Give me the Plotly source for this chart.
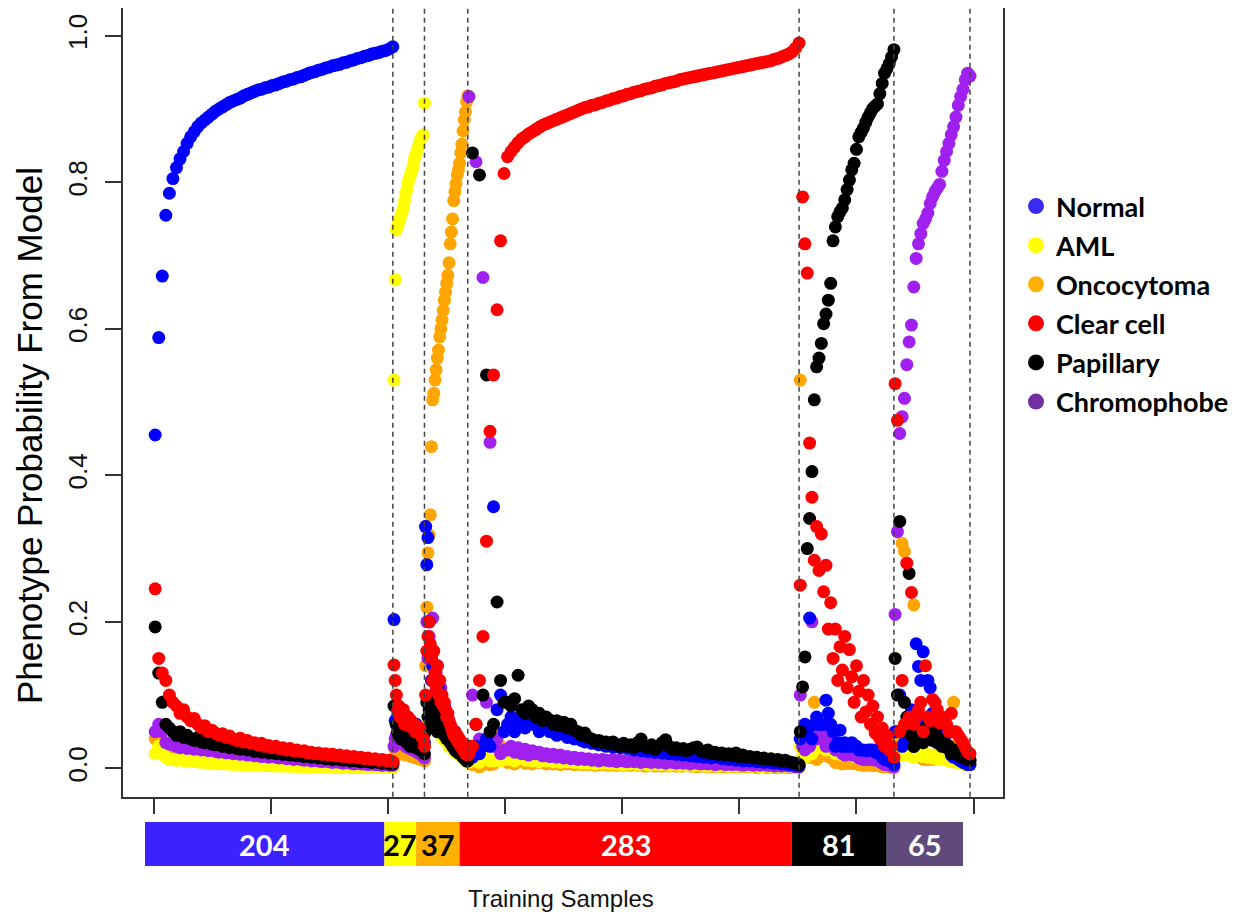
import numpy as np
import plotly.graph_objects as go

# ---------------- data ----------------
classes = ["Normal", "AML", "Oncocytoma", "Clear cell", "Papillary", "Chromophobe"]
group_counts = [204, 27, 37, 283, 81, 65]
count_labels = ["204", "27", "37", "283", "81", "65"]
y_ticks = [0.0, 0.2, 0.4, 0.6, 0.8, 1.0]
x_ticks = [0, 100, 200, 300, 400, 500, 600, 700]

# --- Normal samples (204, read every ~3rd sample) ---
normal_grp_normal = [0.455, 0.588, 0.672, 0.755, 0.785, 0.805, 0.82, 0.832, 0.842, 0.853, 0.862, 0.869, 0.876, 0.881, 0.885, 0.889, 0.893, 0.897, 0.900, 0.903, 0.906, 0.909, 0.911, 0.913, 0.915, 0.918, 0.920, 0.922, 0.924, 0.926, 0.927, 0.929, 0.930, 0.932, 0.933, 0.935, 0.937, 0.938, 0.940, 0.941, 0.943, 0.944, 0.946, 0.948, 0.950, 0.951, 0.953, 0.954, 0.956, 0.957, 0.959, 0.960, 0.961, 0.963, 0.964, 0.966, 0.967, 0.969, 0.970, 0.972, 0.973, 0.975, 0.976, 0.977, 0.979, 0.980, 0.982, 0.985]
normal_grp_aml = [0.02, 0.03, 0.025, 0.015, 0.012, 0.012, 0.011, 0.013, 0.01, 0.011, 0.009, 0.01, 0.009, 0.008, 0.009, 0.007, 0.008, 0.007, 0.006, 0.007, 0.006, 0.006, 0.005, 0.006, 0.005, 0.005, 0.004, 0.005, 0.004, 0.005, 0.004, 0.004, 0.004, 0.003, 0.004, 0.003, 0.003, 0.003, 0.003, 0.003, 0.002, 0.003, 0.002, 0.002, 0.002, 0.002, 0.002, 0.002, 0.002, 0.001, 0.002, 0.001, 0.001, 0.001, 0.001, 0.001, 0.001, 0.001, 0.001, 0.001, 0.001, 0.001, 0.001, 0.001, 0.001, 0.001, 0.001, 0.001]
normal_grp_onco = [0.04, 0.045, 0.035, 0.02, 0.018, 0.015, 0.014, 0.016, 0.012, 0.013, 0.011, 0.012, 0.01, 0.011, 0.009, 0.01, 0.009, 0.008, 0.009, 0.007, 0.008, 0.007, 0.006, 0.007, 0.006, 0.007, 0.005, 0.006, 0.005, 0.006, 0.005, 0.005, 0.004, 0.005, 0.004, 0.005, 0.004, 0.004, 0.003, 0.004, 0.003, 0.004, 0.003, 0.003, 0.003, 0.003, 0.002, 0.003, 0.002, 0.003, 0.002, 0.002, 0.002, 0.002, 0.002, 0.002, 0.001, 0.002, 0.001, 0.002, 0.001, 0.001, 0.001, 0.001, 0.001, 0.001, 0.001, 0.001]
normal_grp_clear = [0.245, 0.15, 0.13, 0.12, 0.10, 0.09, 0.085, 0.075, 0.08, 0.07, 0.065, 0.068, 0.06, 0.055, 0.058, 0.05, 0.052, 0.048, 0.045, 0.047, 0.042, 0.044, 0.04, 0.038, 0.041, 0.036, 0.038, 0.034, 0.035, 0.032, 0.034, 0.03, 0.031, 0.028, 0.03, 0.027, 0.028, 0.025, 0.027, 0.024, 0.025, 0.023, 0.024, 0.021, 0.022, 0.02, 0.021, 0.019, 0.02, 0.018, 0.019, 0.017, 0.018, 0.016, 0.017, 0.015, 0.016, 0.014, 0.015, 0.013, 0.014, 0.012, 0.013, 0.011, 0.012, 0.01, 0.011, 0.009]
normal_grp_pap = [0.193, 0.13, 0.09, 0.06, 0.055, 0.05, 0.045, 0.05, 0.042, 0.045, 0.04, 0.038, 0.042, 0.036, 0.035, 0.038, 0.033, 0.032, 0.035, 0.03, 0.032, 0.028, 0.03, 0.027, 0.026, 0.029, 0.025, 0.026, 0.023, 0.025, 0.022, 0.024, 0.021, 0.022, 0.02, 0.021, 0.019, 0.02, 0.018, 0.019, 0.017, 0.018, 0.016, 0.017, 0.015, 0.016, 0.014, 0.015, 0.013, 0.014, 0.012, 0.013, 0.012, 0.011, 0.012, 0.01, 0.011, 0.01, 0.009, 0.01, 0.009, 0.008, 0.009, 0.008, 0.007, 0.008, 0.006, 0.006]
normal_grp_chromo = [0.05, 0.06, 0.05, 0.035, 0.033, 0.032, 0.03, 0.028, 0.031, 0.027, 0.029, 0.026, 0.028, 0.025, 0.026, 0.024, 0.025, 0.023, 0.022, 0.023, 0.021, 0.022, 0.02, 0.021, 0.019, 0.02, 0.018, 0.019, 0.017, 0.018, 0.016, 0.017, 0.015, 0.016, 0.015, 0.014, 0.015, 0.013, 0.014, 0.012, 0.013, 0.012, 0.011, 0.012, 0.01, 0.011, 0.01, 0.009, 0.01, 0.009, 0.008, 0.009, 0.008, 0.007, 0.008, 0.007, 0.006, 0.007, 0.006, 0.006, 0.005, 0.006, 0.005, 0.005, 0.004, 0.005, 0.004, 0.004]

# --- AML samples (27) ---
aml_grp_normal = [0.203, 0.065, 0.06, 0.07, 0.055, 0.05, 0.062, 0.058, 0.045, 0.07, 0.052, 0.066, 0.048, 0.06, 0.055, 0.04, 0.058, 0.05, 0.045, 0.06, 0.052, 0.043, 0.05, 0.047, 0.042, 0.038, 0.035]
aml_grp_aml = [0.53, 0.667, 0.735, 0.74, 0.745, 0.75, 0.755, 0.76, 0.765, 0.775, 0.785, 0.79, 0.80, 0.805, 0.81, 0.815, 0.82, 0.83, 0.835, 0.84, 0.845, 0.85, 0.855, 0.86, 0.862, 0.865, 0.908]
aml_grp_onco = [0.012, 0.025, 0.028, 0.022, 0.03, 0.025, 0.02, 0.026, 0.022, 0.02, 0.018, 0.022, 0.02, 0.018, 0.02, 0.016, 0.018, 0.015, 0.016, 0.014, 0.015, 0.013, 0.014, 0.012, 0.012, 0.011, 0.01]
aml_grp_clear = [0.141, 0.12, 0.10, 0.078, 0.085, 0.07, 0.075, 0.068, 0.08, 0.06, 0.072, 0.065, 0.07, 0.058, 0.066, 0.062, 0.055, 0.06, 0.05, 0.058, 0.052, 0.048, 0.055, 0.045, 0.042, 0.04, 0.03]
aml_grp_pap = [0.085, 0.085, 0.06, 0.05, 0.045, 0.055, 0.04, 0.048, 0.042, 0.038, 0.045, 0.035, 0.04, 0.036, 0.03, 0.038, 0.032, 0.03, 0.035, 0.028, 0.03, 0.026, 0.028, 0.025, 0.024, 0.022, 0.02]
aml_grp_chromo = [0.03, 0.04, 0.045, 0.04, 0.038, 0.042, 0.035, 0.036, 0.04, 0.032, 0.03, 0.034, 0.028, 0.03, 0.027, 0.03, 0.025, 0.028, 0.024, 0.026, 0.022, 0.024, 0.02, 0.022, 0.018, 0.016, 0.014]

# --- Oncocytoma samples (37) ---
onco_grp_normal = [0.33, 0.278, 0.315, 0.20, 0.16, 0.12, 0.14, 0.10, 0.12, 0.09, 0.14, 0.11, 0.08, 0.10, 0.09, 0.07, 0.085, 0.06, 0.075, 0.065, 0.06, 0.05, 0.055, 0.045, 0.04, 0.05, 0.035, 0.04, 0.03, 0.035, 0.03, 0.025, 0.028, 0.02, 0.022, 0.018, 0.015]
onco_grp_aml = [0.05, 0.06, 0.07, 0.065, 0.075, 0.07, 0.065, 0.06, 0.07, 0.055, 0.06, 0.05, 0.055, 0.045, 0.05, 0.04, 0.045, 0.038, 0.04, 0.035, 0.03, 0.032, 0.028, 0.03, 0.025, 0.022, 0.025, 0.02, 0.022, 0.018, 0.02, 0.016, 0.015, 0.012, 0.012, 0.01, 0.008]
onco_grp_onco = [0.14, 0.22, 0.294, 0.318, 0.346, 0.439, 0.503, 0.512, 0.53, 0.544, 0.56, 0.571, 0.589, 0.60, 0.612, 0.625, 0.639, 0.65, 0.662, 0.673, 0.69, 0.716, 0.732, 0.75, 0.775, 0.787, 0.798, 0.81, 0.817, 0.826, 0.84, 0.852, 0.87, 0.885, 0.896, 0.91, 0.918]
onco_grp_clear = [0.10, 0.16, 0.18, 0.20, 0.17, 0.15, 0.12, 0.16, 0.13, 0.11, 0.14, 0.10, 0.12, 0.09, 0.10, 0.085, 0.09, 0.08, 0.07, 0.075, 0.065, 0.06, 0.055, 0.05, 0.045, 0.05, 0.04, 0.045, 0.035, 0.04, 0.03, 0.035, 0.025, 0.03, 0.02, 0.02, 0.018]
onco_grp_pap = [0.05, 0.09, 0.07, 0.08, 0.09, 0.06, 0.07, 0.085, 0.06, 0.075, 0.05, 0.065, 0.07, 0.05, 0.06, 0.055, 0.045, 0.05, 0.04, 0.045, 0.04, 0.035, 0.04, 0.03, 0.035, 0.025, 0.03, 0.022, 0.025, 0.02, 0.022, 0.018, 0.015, 0.015, 0.012, 0.01, 0.01]
onco_grp_chromo = [0.33, 0.20, 0.15, 0.18, 0.16, 0.15, 0.205, 0.14, 0.12, 0.13, 0.10, 0.12, 0.09, 0.11, 0.08, 0.09, 0.07, 0.08, 0.065, 0.07, 0.06, 0.055, 0.05, 0.05, 0.045, 0.04, 0.045, 0.035, 0.04, 0.03, 0.035, 0.028, 0.03, 0.025, 0.02, 0.018, 0.015]

# --- Clear cell samples (283, read every ~3rd sample) ---
clear_grp_normal = [0.015, 0.015, 0.03, 0.02, 0.03, 0.04, 0.03, 0.357, 0.08, 0.10, 0.05,
                    0.06, 0.07, 0.05, 0.065, 0.07, 0.055, 0.07, 0.06, 0.066, 0.05, 0.06, 0.055,
                    0.05, 0.057, 0.045, 0.05, 0.048, 0.042, 0.046, 0.04, 0.043, 0.038,
                    0.036, 0.04, 0.034, 0.037, 0.032, 0.036, 0.03, 0.033, 0.029, 0.032, 0.028, 0.03, 0.027,
                    0.029, 0.025, 0.028, 0.024, 0.026, 0.023, 0.029, 0.022, 0.025, 0.021, 0.024, 0.02, 0.022, 0.019, 0.021,
                    0.018, 0.02, 0.017, 0.019, 0.016, 0.018, 0.015, 0.017, 0.014, 0.016, 0.015, 0.013, 0.015, 0.012, 0.014,
                    0.011, 0.013, 0.01, 0.012, 0.01, 0.011, 0.009, 0.01, 0.008, 0.009, 0.008, 0.007,
                    0.008, 0.006, 0.007, 0.005, 0.005, 0.004, 0.003]
clear_grp_aml = [0.01, 0.01, 0.015, 0.008, 0.015, 0.015, 0.01, 0.01, 0.015, 0.01, 0.012,
                 0.012, 0.02, 0.01, 0.015, 0.025, 0.011, 0.018, 0.01, 0.014, 0.009, 0.016, 0.01,
                 0.012, 0.009, 0.014, 0.008, 0.011, 0.009, 0.012, 0.008, 0.01, 0.007,
                 0.009, 0.007, 0.01, 0.006, 0.009, 0.007, 0.008, 0.006, 0.009, 0.006, 0.008, 0.005, 0.007,
                 0.006, 0.008, 0.005, 0.007, 0.006, 0.005, 0.007, 0.005, 0.006, 0.005, 0.007, 0.004, 0.006, 0.005, 0.004,
                 0.006, 0.004, 0.005, 0.004, 0.006, 0.004, 0.005, 0.003, 0.005, 0.004, 0.003, 0.005, 0.004, 0.003, 0.004,
                 0.003, 0.004, 0.003, 0.004, 0.003, 0.003, 0.004, 0.002, 0.003, 0.003, 0.002, 0.003,
                 0.002, 0.003, 0.002, 0.002, 0.002, 0.001, 0.001]
clear_grp_onco = [0.008, 0.005, 0.007, 0.002, 0.005, 0.008, 0.005, 0.006, 0.045, 0.03, 0.011,
                  0.008, 0.012, 0.006, 0.01, 0.015, 0.007, 0.012, 0.006, 0.009, 0.008, 0.011, 0.006,
                  0.008, 0.006, 0.009, 0.005, 0.008, 0.006, 0.007, 0.005, 0.007, 0.005,
                  0.006, 0.005, 0.007, 0.004, 0.006, 0.005, 0.006, 0.004, 0.005, 0.004, 0.006, 0.004, 0.005,
                  0.004, 0.005, 0.004, 0.005, 0.003, 0.004, 0.005, 0.003, 0.004, 0.003, 0.004, 0.003, 0.004, 0.003, 0.003,
                  0.003, 0.004, 0.003, 0.003, 0.002, 0.003, 0.003, 0.002, 0.003, 0.002, 0.003, 0.002, 0.002, 0.003, 0.002,
                  0.002, 0.002, 0.003, 0.002, 0.002, 0.002, 0.001, 0.002, 0.002, 0.001, 0.002, 0.001,
                  0.001, 0.002, 0.001, 0.001, 0.001, 0.001, 0.001]
clear_grp_clear = [0.02, 0.03, 0.06, 0.12, 0.18, 0.31, 0.46, 0.537, 0.626, 0.72, 0.812,
                   0.835, 0.842, 0.848, 0.854, 0.859, 0.862, 0.866, 0.869, 0.872, 0.875, 0.878, 0.880,
                   0.882, 0.884, 0.886, 0.888, 0.890, 0.892, 0.894, 0.896, 0.898, 0.900,
                   0.902, 0.903, 0.905, 0.906, 0.908, 0.909, 0.911, 0.912, 0.914, 0.915, 0.917, 0.918, 0.920,
                   0.921, 0.923, 0.924, 0.925, 0.927, 0.928, 0.929, 0.931, 0.932, 0.933, 0.935, 0.936, 0.937, 0.938, 0.940,
                   0.941, 0.942, 0.943, 0.944, 0.945, 0.946, 0.947, 0.948, 0.949, 0.950, 0.951, 0.952, 0.953, 0.954, 0.955,
                   0.956, 0.957, 0.958, 0.959, 0.960, 0.961, 0.962, 0.963, 0.964, 0.965, 0.966, 0.968,
                   0.969, 0.971, 0.973, 0.975, 0.978, 0.983, 0.990]
clear_grp_pap = [0.03, 0.84, 0.06, 0.81, 0.10, 0.537, 0.05, 0.06, 0.227, 0.12, 0.09,
                 0.09, 0.085, 0.095, 0.127, 0.08, 0.075, 0.085, 0.08, 0.07, 0.075, 0.065, 0.07,
                 0.066, 0.06, 0.065, 0.058, 0.063, 0.055, 0.06, 0.052, 0.05, 0.045,
                 0.048, 0.042, 0.04, 0.036, 0.038, 0.035, 0.036, 0.033, 0.036, 0.032, 0.03, 0.034, 0.03,
                 0.032, 0.028, 0.035, 0.04, 0.03, 0.028, 0.032, 0.026, 0.03, 0.035, 0.039, 0.03, 0.026, 0.028, 0.025,
                 0.027, 0.024, 0.026, 0.028, 0.029, 0.024, 0.022, 0.025, 0.02, 0.022, 0.019, 0.021, 0.018, 0.02, 0.017,
                 0.021, 0.016, 0.018, 0.015, 0.016, 0.014, 0.015, 0.013, 0.014, 0.012, 0.013, 0.011,
                 0.012, 0.01, 0.011, 0.009, 0.008, 0.007, 0.005]
clear_grp_chromo = [0.917, 0.10, 0.828, 0.04, 0.67, 0.09, 0.445, 0.03, 0.04, 0.02, 0.025,
                    0.025, 0.03, 0.022, 0.028, 0.02, 0.026, 0.018, 0.024, 0.02, 0.022, 0.017, 0.02,
                    0.016, 0.019, 0.015, 0.018, 0.014, 0.016, 0.013, 0.015, 0.012, 0.014,
                    0.012, 0.013, 0.011, 0.012, 0.01, 0.012, 0.011, 0.01, 0.012, 0.009, 0.011, 0.01, 0.009,
                    0.01, 0.009, 0.011, 0.008, 0.01, 0.009, 0.008, 0.01, 0.008, 0.009, 0.007, 0.009, 0.008, 0.007, 0.008,
                    0.007, 0.008, 0.006, 0.008, 0.007, 0.006, 0.007, 0.006, 0.007, 0.005, 0.006, 0.007, 0.005, 0.006, 0.005,
                    0.006, 0.005, 0.004, 0.006, 0.005, 0.004, 0.005, 0.004, 0.005, 0.004, 0.004, 0.003,
                    0.004, 0.003, 0.004, 0.003, 0.003, 0.002, 0.002]

# --- Papillary samples (81, read every 2nd sample) ---
pap_grp_normal = [0.04, 0.05, 0.06, 0.05, 0.205, 0.04, 0.06, 0.07, 0.06, 0.06, 0.06, 0.093, 0.075, 0.06, 0.05, 0.03, 0.035, 0.052, 0.03, 0.035, 0.03, 0.03, 0.035, 0.03, 0.03, 0.025, 0.025, 0.025, 0.024, 0.025, 0.025, 0.025, 0.022, 0.025, 0.02, 0.015, 0.012, 0.012, 0.01, 0.008, 0.005]
pap_grp_aml = [0.03, 0.015, 0.015, 0.02, 0.03, 0.02, 0.025, 0.03, 0.035, 0.035, 0.03, 0.025, 0.03, 0.03, 0.025, 0.02, 0.022, 0.025, 0.018, 0.02, 0.022, 0.018, 0.02, 0.016, 0.02, 0.015, 0.018, 0.014, 0.016, 0.012, 0.014, 0.012, 0.013, 0.01, 0.009, 0.008, 0.006, 0.005, 0.004, 0.003, 0.002]
pap_grp_onco = [0.53, 0.015, 0.015, 0.015, 0.015, 0.015, 0.09, 0.012, 0.015, 0.02, 0.022, 0.05, 0.016, 0.014, 0.015, 0.008, 0.008, 0.009, 0.006, 0.007, 0.007, 0.007, 0.007, 0.007, 0.007, 0.005, 0.005, 0.004, 0.004, 0.005, 0.004, 0.004, 0.004, 0.004, 0.003, 0.002, 0.002, 0.002, 0.002, 0.001, 0.001]
pap_grp_clear = [0.25, 0.78, 0.716, 0.676, 0.444, 0.37, 0.284, 0.33, 0.27, 0.32, 0.241, 0.277, 0.19, 0.226, 0.15, 0.19, 0.12, 0.166, 0.134, 0.18, 0.11, 0.162, 0.125, 0.09, 0.14, 0.105, 0.07, 0.12, 0.077, 0.10, 0.06, 0.085, 0.048, 0.07, 0.04, 0.055, 0.03, 0.045, 0.025, 0.03, 0.015]
pap_grp_pap = [0.05, 0.111, 0.152, 0.30, 0.341, 0.405, 0.503, 0.548, 0.56, 0.58, 0.607, 0.62, 0.639, 0.662, 0.72, 0.739, 0.753, 0.76, 0.765, 0.776, 0.79, 0.803, 0.817, 0.826, 0.845, 0.862, 0.868, 0.874, 0.882, 0.889, 0.895, 0.901, 0.904, 0.907, 0.921, 0.935, 0.949, 0.955, 0.962, 0.971, 0.981]
pap_grp_chromo = [0.10, 0.03, 0.025, 0.03, 0.03, 0.20, 0.04, 0.04, 0.05, 0.045, 0.04, 0.03, 0.05, 0.045, 0.03, 0.025, 0.025, 0.025, 0.02, 0.018, 0.02, 0.02, 0.018, 0.02, 0.017, 0.014, 0.013, 0.012, 0.012, 0.012, 0.012, 0.012, 0.011, 0.011, 0.009, 0.007, 0.005, 0.005, 0.004, 0.003, 0.002]

# --- Chromophobe samples (65, read every 2nd sample) ---
chromo_grp_normal = [0.05, 0.05, 0.10, 0.03, 0.035, 0.06, 0.05, 0.08, 0.03, 0.17, 0.139, 0.12, 0.159, 0.06, 0.12, 0.11, 0.075, 0.06, 0.05, 0.06, 0.045, 0.04, 0.03, 0.028, 0.018, 0.015, 0.015, 0.012, 0.01, 0.008, 0.007, 0.005, 0.005]
chromo_grp_aml = [0.025, 0.022, 0.021, 0.018, 0.02, 0.025, 0.018, 0.022, 0.015, 0.02, 0.018, 0.022, 0.016, 0.02, 0.015, 0.018, 0.014, 0.017, 0.013, 0.016, 0.012, 0.014, 0.011, 0.012, 0.009, 0.01, 0.008, 0.009, 0.007, 0.006, 0.005, 0.004, 0.004]
chromo_grp_onco = [0.04, 0.03, 0.035, 0.307, 0.296, 0.025, 0.02, 0.022, 0.223, 0.018, 0.018, 0.018, 0.012, 0.012, 0.012, 0.014, 0.012, 0.018, 0.045, 0.05, 0.04, 0.035, 0.045, 0.05, 0.03, 0.09, 0.03, 0.025, 0.02, 0.018, 0.015, 0.01, 0.01]
chromo_grp_clear = [0.525, 0.475, 0.05, 0.12, 0.06, 0.28, 0.07, 0.24, 0.06, 0.07, 0.08, 0.09, 0.05, 0.14, 0.07, 0.065, 0.094, 0.09, 0.08, 0.062, 0.07, 0.065, 0.06, 0.05, 0.075, 0.05, 0.05, 0.045, 0.04, 0.035, 0.028, 0.022, 0.02]
chromo_grp_pap = [0.15, 0.10, 0.337, 0.05, 0.09, 0.07, 0.266, 0.045, 0.03, 0.045, 0.05, 0.04, 0.035, 0.055, 0.04, 0.045, 0.038, 0.05, 0.035, 0.04, 0.03, 0.035, 0.028, 0.03, 0.02, 0.025, 0.02, 0.018, 0.016, 0.015, 0.013, 0.012, 0.011]
chromo_grp_chromo = [0.21, 0.323, 0.457, 0.48, 0.505, 0.551, 0.582, 0.605, 0.657, 0.696, 0.716, 0.73, 0.744, 0.75, 0.758, 0.771, 0.78, 0.787, 0.792, 0.797, 0.815, 0.83, 0.842, 0.853, 0.865, 0.876, 0.889, 0.905, 0.917, 0.927, 0.94, 0.949, 0.945]

# one row per sample group, one column per class (order of `classes`)
group_table = [
    [normal_grp_normal, normal_grp_aml, normal_grp_onco, normal_grp_clear, normal_grp_pap, normal_grp_chromo],
    [aml_grp_normal, aml_grp_aml, aml_grp_onco, aml_grp_clear, aml_grp_pap, aml_grp_chromo],
    [onco_grp_normal, onco_grp_aml, onco_grp_onco, onco_grp_clear, onco_grp_pap, onco_grp_chromo],
    [clear_grp_normal, clear_grp_aml, clear_grp_onco, clear_grp_clear, clear_grp_pap, clear_grp_chromo],
    [pap_grp_normal, pap_grp_aml, pap_grp_onco, pap_grp_clear, pap_grp_pap, pap_grp_chromo],
    [chromo_grp_normal, chromo_grp_aml, chromo_grp_onco, chromo_grp_clear, chromo_grp_pap, chromo_grp_chromo],
]

# ---------------- styles / layout helpers ----------------
OFF = 8                       # page body margin of the html page
W, H = 1244 - 2 * OFF, 922 - 2 * OFF


def px(x):                    # screen x (px) -> paper fraction
    return (x - OFF) / W


def py(y):                    # screen y (px, from top) -> paper fraction
    return 1 - (y - OFF) / H


point_colors = ["#0000FF", "#FFFF00", "#FFA500", "#FF0000", "#000000", "#A020F0"]
legend_colors = ["#3A2BF2", "#FFFF00", "#FFB000", "#FF0000", "#000000", "#7030A0"]
bar_colors = ["#3B22FF", "#FFFF00", "#FFB000", "#FF0000", "#000000", "#604A7B"]
bar_text_colors = ["white", "black", "black", "white", "white", "white"]
draw_order = [2, 1, 5, 0, 4, 3]
AX = "Liberation Sans, Arial, sans-serif"
LB = "Lato, Open Sans, sans-serif"

starts = np.concatenate([[0], np.cumsum(group_counts)[:-1]])
ends = np.cumsum(group_counts)

fig = go.Figure()

for c in draw_order:
    xs, ys = [], []
    for g, cnt in enumerate(group_counts):
        vals = group_table[g][c]
        n = len(vals)
        xs.extend(starts[g] + 1 + np.arange(n) * (cnt - 1) / (n - 1))
        ys.extend(vals)
    fig.add_trace(go.Scatter(x=xs, y=ys, mode="markers", showlegend=False,
                             marker=dict(color=point_colors[c], size=13, line=dict(width=0)),
                             hoverinfo="skip"))

# legend entries
for c, name in enumerate(classes):
    fig.add_trace(go.Scatter(x=[None], y=[None], mode="markers", name=name,
                             legendgroup=name,
                             marker=dict(color=legend_colors[c], size=16)))

# bottom count bar
for g, cnt in enumerate(group_counts):
    fig.add_trace(go.Bar(x=[cnt], y=[0], base=[starts[g]], orientation="h", width=1,
                         marker=dict(color=bar_colors[g], line=dict(width=0)),
                         xaxis="x2", yaxis="y2", showlegend=False, hoverinfo="skip"))
    fig.add_annotation(x=starts[g] + cnt / 2, y=0, xref="x2", yref="y2",
                       text=count_labels[g], showarrow=False,
                       font=dict(family=LB, size=29, color=bar_text_colors[g], weight="bold"))

# dashed group separators
for e in ends:
    fig.add_shape(type="line", x0=e, x1=e, xref="x", y0=0, y1=1, yref="y domain",
                  line=dict(color="#444444", width=1.5, dash="5px,4px"), layer="above")

axis_common = dict(showline=True, linecolor="#333333", linewidth=1.5, mirror=True,
                   ticks="outside", ticklen=16, tickwidth=1.5, tickcolor="#333333",
                   showgrid=False, zeroline=False, automargin=False)

fig.update_layout(
    width=W, height=H, margin=dict(l=0, r=0, t=0, b=0),
    paper_bgcolor="white", plot_bgcolor="white",
    barmode="overlay",
    xaxis=dict(domain=[px(122.6), px(1002.6)], range=[-26.84, 724.84],
               tickvals=x_ticks, showticklabels=False, anchor="y", **axis_common),
    yaxis=dict(domain=[py(796.7), py(8.3)], range=[-0.0388, 1.0375],
               tickvals=y_ticks, ticktext=[f"{v:.1f}" for v in y_ticks], tickangle=-90,
               tickfont=dict(family=AX, size=26, color="#111111"), ticklabelstandoff=7,
               anchor="x", **axis_common),
    xaxis2=dict(domain=[px(145), px(963)], range=[0, int(ends[-1])], visible=False,
                anchor="y2", fixedrange=True),
    yaxis2=dict(domain=[py(866), py(822)], range=[-0.5, 0.5], visible=False,
                anchor="x2", fixedrange=True),
    legend=dict(x=px(1016), y=py(182), xanchor="left", yanchor="top",
                font=dict(family=LB, size=27, color="black", weight="bold"),
                bgcolor="rgba(0,0,0,0)", traceorder="grouped", tracegroupgap=1,
                itemsizing="trace"),
    showlegend=True,
)

fig.add_annotation(x=px(29), y=py(436), xref="paper", yref="paper",
                   xanchor="center", yanchor="middle",
                   text="Phenotype Probability From Model", textangle=-90, showarrow=False,
                   font=dict(family=AX, size=35, color="black"))
fig.add_annotation(x=px(561), y=py(898), xref="paper", yref="paper",
                   xanchor="center", yanchor="middle",
                   text="Training Samples", showarrow=False,
                   font=dict(family=AX, size=24, color="#111111"))

fig.write_html("out.html")
